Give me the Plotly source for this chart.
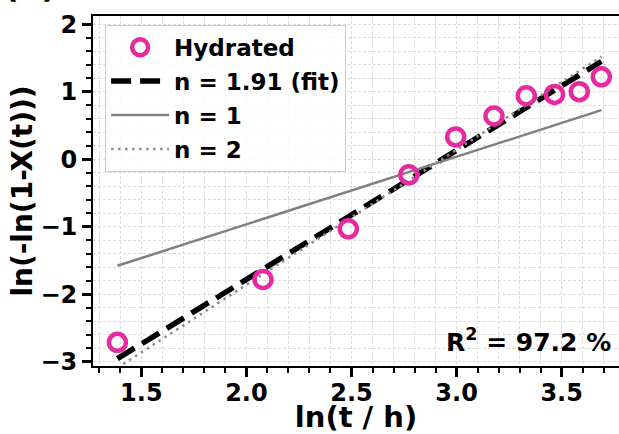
import plotly.graph_objects as go
import numpy as np

# Avrami plot: ln(t) vs ln(-ln(1 - X(t)))
ln_t = [1.386, 2.079, 2.485, 2.773, 2.996, 3.178, 3.332, 3.466, 3.584, 3.689]
ln_ln = [-2.71, -1.78, -1.03, -0.23, 0.33, 0.64, 0.94, 0.96, 1.00, 1.22]
n_fit = 1.91
n_ref = [1, 2]
r2_pct = 97.2
x_ticks = [1.5, 2.0, 2.5, 3.0, 3.5]
y_ticks = [-3, -2, -1, 0, 1, 2]

PINK = "#e52b9f"
FONT = "DejaVu Sans"

x_mean = float(np.mean(ln_t))
y_mean = float(np.mean(ln_ln))
x_line = [ln_t[0], ln_t[-1]]


def avrami_line(n):
    return [y_mean + n * (x - x_mean) for x in x_line]


fig = go.Figure()
fig.add_trace(go.Scatter(
    x=x_line, y=avrami_line(n_fit), mode="lines", name=f"n = {n_fit:.2f} (fit)",
    line=dict(color="black", width=5.5, dash="20px,9px"),
    legendrank=2, legendgroup="fit",
))
fig.add_trace(go.Scatter(
    x=x_line, y=avrami_line(n_ref[0]), mode="lines", name=f"n = {n_ref[0]}",
    line=dict(color="#808080", width=2.5),
    legendrank=3, legendgroup="n1",
))
fig.add_trace(go.Scatter(
    x=x_line, y=avrami_line(n_ref[1]), mode="lines", name=f"n = {n_ref[1]}",
    line=dict(color="#8c8c8c", width=2.5, dash="2.5px,4.5px"),
    legendrank=4, legendgroup="n2",
))
fig.add_trace(go.Scatter(
    x=ln_t, y=ln_ln, mode="markers", name="Hydrated",
    marker=dict(symbol="circle-open", size=17, color=PINK, line=dict(width=4.5, color=PINK)),
    cliponaxis=False, legendrank=1, legendgroup="data",
))

grid = dict(gridcolor="#dcdcdc", gridwidth=1, griddash="3px,2px")

fig.update_layout(
    width=619, height=434,
    margin=dict(l=93, r=0, t=16, b=66),
    plot_bgcolor="white", paper_bgcolor="white",
    font=dict(family=FONT, size=22, color="black", weight="bold"),
    showlegend=True,
    legend=dict(
        x=0.023, y=0.975, xanchor="left", yanchor="top",
        bgcolor="rgba(255,255,255,0.85)", bordercolor="#cccccc", borderwidth=1,
        font=dict(family=FONT, size=23, color="black", weight="bold"),
        traceorder="grouped", tracegroupgap=1, itemwidth=58,
    ),
    xaxis=dict(
        range=[1.27, 3.773],
        tickmode="array", tickvals=x_ticks, ticktext=[f"{v:.1f}" for v in x_ticks],
        ticks="outside", ticklen=9, tickwidth=2.5, tickcolor="black",
        showline=True, linewidth=2, linecolor="black", mirror=True,
        zeroline=False, showgrid=True, **grid,
        minor=dict(tick0=0, dtick=0.1, ticks="outside", ticklen=5, tickwidth=1.5,
                   tickcolor="black", showgrid=True, **grid),
        tickfont=dict(family=FONT, size=24, weight="bold"),
        ticklabelstandoff=-5,
        title=dict(text="ln(t / h)", font=dict(family=FONT, size=29, weight="bold"), standoff=7),
    ),
    yaxis=dict(
        range=[-3.06, 2.12],
        tickmode="array", tickvals=y_ticks, ticktext=[str(v).replace("-", "\u2212") for v in y_ticks],
        ticks="outside", ticklen=9, tickwidth=2.5, tickcolor="black",
        showline=True, linewidth=2, linecolor="black", mirror=False,
        zeroline=False, showgrid=True, **grid,
        minor=dict(tick0=0, dtick=0.2, ticks="outside", ticklen=5, tickwidth=1.5,
                   tickcolor="black", showgrid=True, **grid),
        tickfont=dict(family=FONT, size=24, weight="bold"),
        title=dict(text="ln(-ln(1-X(t)))", font=dict(family=FONT, size=28, weight="bold"), standoff=0),
    ),
    annotations=[
        dict(text=f"R<sup>2</sup> = {r2_pct:.1f} %", xref="x", yref="y",
             x=3.744, y=-2.95, xanchor="right", yanchor="bottom", showarrow=False,
             font=dict(family=FONT, size=25, weight="bold")),
        dict(text="(b)", xref="paper", yref="paper", x=-0.12, y=1.026,
             xanchor="center", yanchor="bottom", showarrow=False,
             font=dict(family=FONT, size=32, weight="bold")),
    ],
)

fig.write_html("out.html")
